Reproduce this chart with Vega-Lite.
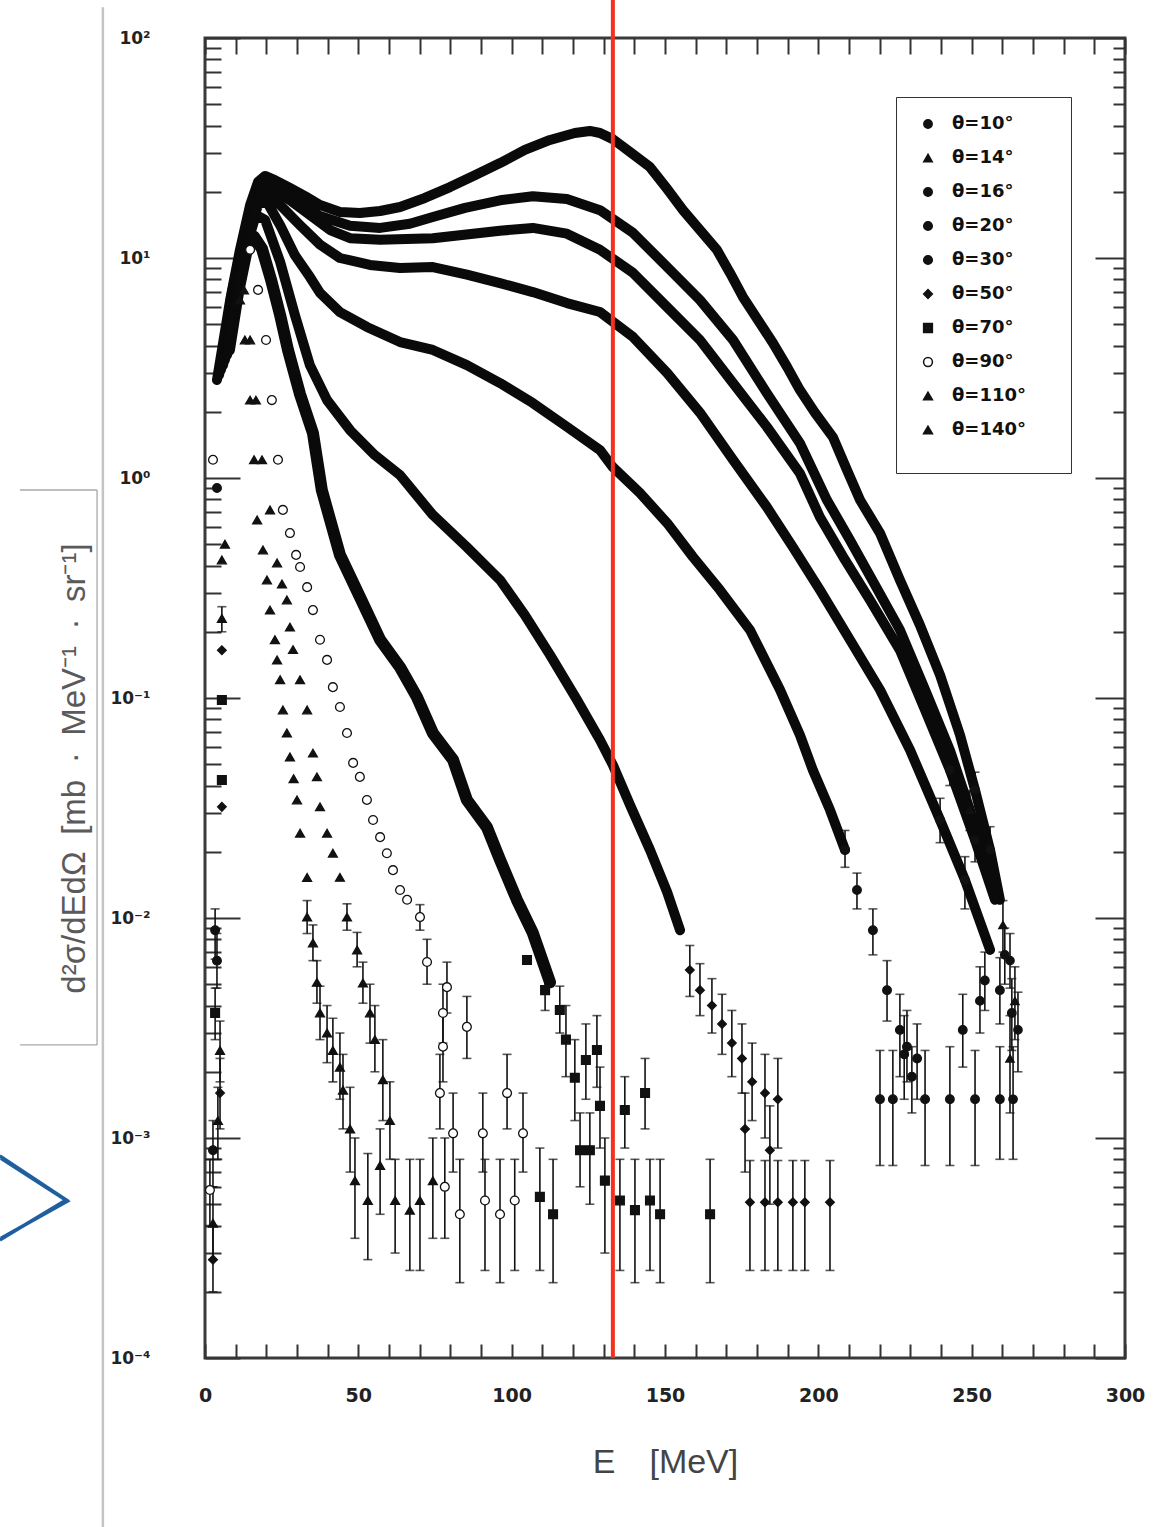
{
  "$schema": "https://vega.github.io/schema/vega-lite/v6.json",
  "width": 920,
  "height": 1320,
  "autosize": {"type": "none"},
  "padding": {"left": 205, "top": 38, "right": 46, "bottom": 169},
  "background": "white",
  "config": {
    "view": {"stroke": "#3a3a3a", "strokeWidth": 3},
    "font": "DejaVu Sans",
    "axis": {"grid": false}
  },
  "title": {"text": "44", "orient": "bottom", "anchor": "end", "frame": "group", "offset": 156, "dx": 60, "fontSize": 32, "fontWeight": "normal", "color": "#111", "baseline": "top", "font": "Liberation Sans"},
  "data": {"values": [{}]},
  "datasets": {
    "curves": [
      {"theta":10,"E":3.9,"y":2.79},{"theta":10,"E":8.2,"y":6.44},{"theta":10,"E":11.4,"y":10.9},{"theta":10,"E":14.7,"y":17.4},{"theta":10,"E":17.3,"y":22.2},{"theta":10,"E":19.6,"y":23.6},{"theta":10,"E":22.8,"y":22.6},{"theta":10,"E":27.7,"y":20.8},{"theta":10,"E":32.6,"y":19.1},{"theta":10,"E":37.5,"y":17.4},{"theta":10,"E":44.0,"y":16.2},{"theta":10,"E":50.5,"y":16.0},{"theta":10,"E":57.1,"y":16.35},{"theta":10,"E":63.6,"y":17.05},{"theta":10,"E":71.7,"y":18.75},{"theta":10,"E":79.9,"y":21.0},{"theta":10,"E":88.0,"y":23.8},{"theta":10,"E":96.2,"y":27.0},{"theta":10,"E":104.3,"y":31.0},{"theta":10,"E":112.5,"y":34.4},{"theta":10,"E":120.6,"y":37.0},{"theta":10,"E":125.5,"y":37.8},{"theta":10,"E":128.8,"y":37.0},{"theta":10,"E":133.0,"y":34.7},{"theta":10,"E":138.6,"y":30.3},{"theta":10,"E":145.1,"y":25.9},{"theta":10,"E":150.7,"y":20.6},{"theta":10,"E":155.9,"y":16.5},{"theta":10,"E":161.4,"y":13.4},{"theta":10,"E":166.9,"y":10.9},{"theta":10,"E":171.2,"y":8.55},{"theta":10,"E":175.4,"y":6.65},{"theta":10,"E":180.3,"y":5.23},{"theta":10,"E":185.2,"y":4.11},{"theta":10,"E":189.8,"y":3.2},{"theta":10,"E":194.0,"y":2.51},{"theta":10,"E":198.9,"y":1.98},{"theta":10,"E":204.8,"y":1.53},{"theta":10,"E":209.3,"y":1.09},{"theta":10,"E":213.6,"y":0.794},{"theta":10,"E":220.1,"y":0.562},{"theta":10,"E":226.6,"y":0.344},{"theta":10,"E":233.1,"y":0.215},{"theta":10,"E":239.7,"y":0.127},{"theta":10,"E":246.2,"y":0.0679},{"theta":10,"E":251.1,"y":0.0382},{"theta":10,"E":256.0,"y":0.0204},{"theta":10,"E":259.2,"y":0.0121},

      {"theta":14,"E":4.6,"y":2.94},{"theta":14,"E":8.8,"y":7.0},{"theta":14,"E":12.1,"y":11.5},{"theta":14,"E":15.3,"y":17.4},{"theta":14,"E":18.6,"y":21.2},{"theta":14,"E":21.2,"y":21.7},{"theta":14,"E":26.1,"y":19.95},{"theta":14,"E":31.0,"y":17.8},{"theta":14,"E":37.5,"y":15.5},{"theta":14,"E":47.3,"y":14.0},{"theta":14,"E":57.1,"y":13.7},{"theta":14,"E":66.8,"y":14.3},{"theta":14,"E":74.3,"y":15.35},{"theta":14,"E":84.8,"y":16.9},{"theta":14,"E":96.2,"y":18.3},{"theta":14,"E":106.9,"y":19.1},{"theta":14,"E":118.0,"y":18.55},{"theta":14,"E":128.8,"y":16.5},{"theta":14,"E":139.6,"y":13.0},{"theta":14,"E":150.7,"y":9.1},{"theta":14,"E":161.4,"y":6.44},{"theta":14,"E":172.2,"y":4.24},{"theta":14,"E":183.2,"y":2.43},{"theta":14,"E":194.0,"y":1.44},{"theta":14,"E":202.8,"y":0.794},{"theta":14,"E":210.3,"y":0.523},{"theta":14,"E":218.5,"y":0.326},{"theta":14,"E":226.6,"y":0.204},{"theta":14,"E":234.8,"y":0.109},{"theta":14,"E":242.9,"y":0.058},{"theta":14,"E":249.4,"y":0.031},{"theta":14,"E":256.0,"y":0.0165},

      {"theta":16,"E":5.2,"y":3.1},{"theta":16,"E":9.5,"y":7.16},{"theta":16,"E":12.7,"y":11.5},{"theta":16,"E":16.0,"y":16.5},{"theta":16,"E":18.6,"y":19.95},{"theta":16,"E":21.8,"y":20.4},{"theta":16,"E":27.7,"y":18.3},{"theta":16,"E":34.2,"y":15.7},{"theta":16,"E":40.8,"y":13.4},{"theta":16,"E":47.3,"y":12.3},{"theta":16,"E":57.1,"y":12.1},{"theta":16,"E":74.3,"y":12.3},{"theta":16,"E":96.2,"y":13.3},{"theta":16,"E":106.9,"y":13.7},{"theta":16,"E":118.0,"y":12.9},{"theta":16,"E":128.8,"y":10.9},{"theta":16,"E":139.6,"y":8.55},{"theta":16,"E":150.7,"y":5.98},{"theta":16,"E":161.4,"y":4.24},{"theta":16,"E":172.2,"y":2.7},{"theta":16,"E":183.2,"y":1.71},{"theta":16,"E":194.0,"y":1.05},{"theta":16,"E":200.5,"y":0.665},{"theta":16,"E":208.7,"y":0.424},{"theta":16,"E":216.8,"y":0.279},{"theta":16,"E":226.6,"y":0.165},{"theta":16,"E":234.8,"y":0.0882},{"theta":16,"E":242.9,"y":0.0471},{"theta":16,"E":251.1,"y":0.0226},{"theta":16,"E":257.6,"y":0.0121},

      {"theta":20,"E":5.9,"y":3.26},{"theta":20,"E":10.1,"y":7.54},{"theta":20,"E":13.4,"y":12.1},{"theta":20,"E":16.6,"y":17.4},{"theta":20,"E":19.6,"y":19.3},{"theta":20,"E":24.5,"y":17.4},{"theta":20,"E":31.0,"y":14.1},{"theta":20,"E":37.5,"y":11.5},{"theta":20,"E":44.0,"y":10.0},{"theta":20,"E":53.8,"y":9.3},{"theta":20,"E":63.6,"y":9.0},{"theta":20,"E":74.3,"y":9.1},{"theta":20,"E":85.4,"y":8.4},{"theta":20,"E":96.2,"y":7.69},{"theta":20,"E":106.9,"y":7.0},{"theta":20,"E":118.0,"y":6.24},{"theta":20,"E":128.8,"y":5.68},{"theta":20,"E":139.6,"y":4.37},{"theta":20,"E":150.7,"y":3.0},{"theta":20,"E":161.4,"y":1.98},{"theta":20,"E":172.2,"y":1.21},{"theta":20,"E":183.2,"y":0.738},{"theta":20,"E":191.7,"y":0.485},{"theta":20,"E":200.5,"y":0.31},{"theta":20,"E":210.3,"y":0.184},{"theta":20,"E":220.1,"y":0.109},{"theta":20,"E":229.9,"y":0.058},{"theta":20,"E":239.7,"y":0.0279},{"theta":20,"E":247.8,"y":0.0149},{"theta":20,"E":256.0,"y":0.00716},

      {"theta":30,"E":6.5,"y":3.44},{"theta":30,"E":10.8,"y":8.37},{"theta":30,"E":14.0,"y":12.7},{"theta":30,"E":17.3,"y":17.4},{"theta":30,"E":19.9,"y":18.3},{"theta":30,"E":24.5,"y":14.1},{"theta":30,"E":29.3,"y":10.3},{"theta":30,"E":34.2,"y":8.2},{"theta":30,"E":37.5,"y":6.94},{"theta":30,"E":44.0,"y":5.68},{"theta":30,"E":52.8,"y":4.86},{"theta":30,"E":63.6,"y":4.15},{"theta":30,"E":74.3,"y":3.82},{"theta":30,"E":85.4,"y":3.26},{"theta":30,"E":96.2,"y":2.7},{"theta":30,"E":106.9,"y":2.19},{"theta":30,"E":118.0,"y":1.71},{"theta":30,"E":128.8,"y":1.34},{"theta":30,"E":133.0,"y":1.12},{"theta":30,"E":141.8,"y":0.855},{"theta":30,"E":150.7,"y":0.624},{"theta":30,"E":159.1,"y":0.438},{"theta":30,"E":167.9,"y":0.31},{"theta":30,"E":177.7,"y":0.204},{"theta":30,"E":187.5,"y":0.109},{"theta":30,"E":194.0,"y":0.0679},{"theta":30,"E":198.2,"y":0.0471},{"theta":30,"E":203.8,"y":0.031},{"theta":30,"E":208.7,"y":0.0204},

      {"theta":50,"E":7.2,"y":3.62},{"theta":50,"E":10.4,"y":7.16},{"theta":50,"E":13.7,"y":11.5},{"theta":50,"E":16.6,"y":15.7},{"theta":50,"E":19.6,"y":14.9},{"theta":50,"E":24.5,"y":9.6},{"theta":50,"E":29.3,"y":5.51},{"theta":50,"E":34.2,"y":3.26},{"theta":50,"E":39.8,"y":2.26},{"theta":50,"E":47.3,"y":1.65},{"theta":50,"E":55.4,"y":1.27},{"theta":50,"E":63.6,"y":1.03},{"theta":50,"E":74.3,"y":0.679},{"theta":50,"E":85.4,"y":0.485},{"theta":50,"E":96.2,"y":0.344},{"theta":50,"E":104.3,"y":0.238},{"theta":50,"E":112.5,"y":0.157},{"theta":50,"E":121.3,"y":0.098},{"theta":50,"E":128.8,"y":0.0644},{"theta":50,"E":133.0,"y":0.0496},{"theta":50,"E":138.6,"y":0.0326},{"theta":50,"E":145.1,"y":0.0204},{"theta":50,"E":150.7,"y":0.0131},{"theta":50,"E":154.9,"y":0.0088},

      {"theta":70,"E":7.8,"y":3.82},{"theta":70,"E":10.8,"y":7.0},{"theta":70,"E":13.4,"y":10.5},{"theta":70,"E":16.0,"y":12.5},{"theta":70,"E":18.6,"y":11.0},{"theta":70,"E":21.5,"y":8.0},{"theta":70,"E":24.5,"y":5.5},{"theta":70,"E":27.1,"y":3.8},{"theta":70,"E":31.0,"y":2.4},{"theta":70,"E":35.2,"y":1.6},{"theta":70,"E":38.1,"y":0.88},{"theta":70,"E":44.0,"y":0.447},{"theta":70,"E":50.5,"y":0.288},{"theta":70,"E":57.1,"y":0.184},{"theta":70,"E":63.6,"y":0.138},{"theta":70,"E":69.1,"y":0.101},{"theta":70,"E":74.3,"y":0.0693},{"theta":70,"E":80.9,"y":0.0523},{"theta":70,"E":85.4,"y":0.0344},{"theta":70,"E":91.9,"y":0.0259},{"theta":70,"E":96.2,"y":0.0184},{"theta":70,"E":101.7,"y":0.0121},{"theta":70,"E":106.9,"y":0.00855},{"theta":70,"E":112.5,"y":0.0051}
    ],
    "marks": [
      {"theta":10,"E":251.1,"y":0.0382,"lo":0.032,"hi":0.046},{"theta":10,"E":256.0,"y":0.0204,"lo":0.016,"hi":0.026},{"theta":10,"E":262.5,"y":0.0064,"lo":0.0048,"hi":0.0085},{"theta":10,"E":265.1,"y":0.0031,"lo":0.002,"hi":0.0046},{"theta":10,"E":263.5,"y":0.0015,"lo":0.0008,"hi":0.0026},

      {"theta":14,"E":249.4,"y":0.031,"lo":0.025,"hi":0.038},{"theta":14,"E":260.2,"y":0.0093,"lo":0.007,"hi":0.012},{"theta":14,"E":264.1,"y":0.0042,"lo":0.0028,"hi":0.006},{"theta":14,"E":262.5,"y":0.0023,"lo":0.0013,"hi":0.0036},

      {"theta":16,"E":242.9,"y":0.0471,"lo":0.04,"hi":0.056},{"theta":16,"E":251.1,"y":0.0226,"lo":0.018,"hi":0.028},{"theta":16,"E":254.3,"y":0.0052,"lo":0.0038,"hi":0.007},{"theta":16,"E":260.8,"y":0.0068,"lo":0.005,"hi":0.009},{"theta":16,"E":263.1,"y":0.0037,"lo":0.0025,"hi":0.0053},{"theta":16,"E":259.2,"y":0.0015,"lo":0.0008,"hi":0.0026},

      {"theta":20,"E":239.7,"y":0.0279,"lo":0.022,"hi":0.035},{"theta":20,"E":247.8,"y":0.0149,"lo":0.011,"hi":0.019},{"theta":20,"E":252.7,"y":0.0042,"lo":0.003,"hi":0.006},{"theta":20,"E":259.2,"y":0.0047,"lo":0.0033,"hi":0.0066},{"theta":20,"E":247.1,"y":0.0031,"lo":0.0021,"hi":0.0045},{"theta":20,"E":251.1,"y":0.0015,"lo":0.00075,"hi":0.0025},{"theta":20,"E":242.9,"y":0.0015,"lo":0.00075,"hi":0.0026},

      {"theta":30,"E":3.9,"y":0.9},{"theta":30,"E":3.3,"y":0.0088,"lo":0.0065,"hi":0.011},{"theta":30,"E":3.9,"y":0.0064,"lo":0.0048,"hi":0.0085},{"theta":30,"E":2.6,"y":0.00088,"lo":0.0006,"hi":0.0012},
      {"theta":30,"E":208.7,"y":0.0204,"lo":0.017,"hi":0.025},{"theta":30,"E":212.6,"y":0.0134,"lo":0.011,"hi":0.016},{"theta":30,"E":217.8,"y":0.0088,"lo":0.0068,"hi":0.011},{"theta":30,"E":222.4,"y":0.0047,"lo":0.0034,"hi":0.0064},{"theta":30,"E":226.6,"y":0.0031,"lo":0.0019,"hi":0.0045},{"theta":30,"E":228.0,"y":0.0024,"lo":0.0015,"hi":0.0036},{"theta":30,"E":228.9,"y":0.0026,"lo":0.0018,"hi":0.0038},{"theta":30,"E":230.5,"y":0.0019,"lo":0.0013,"hi":0.0026},{"theta":30,"E":232.2,"y":0.0023,"lo":0.0015,"hi":0.0033},{"theta":30,"E":220.1,"y":0.0015,"lo":0.00075,"hi":0.0025},{"theta":30,"E":224.3,"y":0.0015,"lo":0.00075,"hi":0.0025},{"theta":30,"E":234.8,"y":0.0015,"lo":0.00075,"hi":0.0025},

      {"theta":50,"E":5.5,"y":0.165},{"theta":50,"E":5.5,"y":0.032},{"theta":50,"E":4.9,"y":0.0016,"lo":0.0011,"hi":0.0023},{"theta":50,"E":2.6,"y":0.00028,"lo":0.0002,"hi":0.0004},
      {"theta":50,"E":158.1,"y":0.0058,"lo":0.0044,"hi":0.0075},{"theta":50,"E":161.4,"y":0.0047,"lo":0.0036,"hi":0.0062},{"theta":50,"E":165.3,"y":0.004,"lo":0.003,"hi":0.0053},{"theta":50,"E":168.6,"y":0.0033,"lo":0.0024,"hi":0.0045},{"theta":50,"E":171.8,"y":0.0027,"lo":0.0019,"hi":0.0038},{"theta":50,"E":175.1,"y":0.0023,"lo":0.0016,"hi":0.0033},{"theta":50,"E":178.4,"y":0.0018,"lo":0.0012,"hi":0.0027},{"theta":50,"E":182.6,"y":0.0016,"lo":0.001,"hi":0.0024},{"theta":50,"E":186.8,"y":0.0015,"lo":0.0009,"hi":0.0023},{"theta":50,"E":176.1,"y":0.0011,"lo":0.0007,"hi":0.0016},{"theta":50,"E":184.2,"y":0.00088,"lo":0.0005,"hi":0.0014},
      {"theta":50,"E":177.7,"y":0.00051,"lo":0.00025,"hi":0.00079},{"theta":50,"E":182.6,"y":0.00051,"lo":0.00025,"hi":0.00079},{"theta":50,"E":186.8,"y":0.00051,"lo":0.00025,"hi":0.00079},{"theta":50,"E":191.7,"y":0.00051,"lo":0.00025,"hi":0.00079},{"theta":50,"E":195.6,"y":0.00051,"lo":0.00025,"hi":0.00079},{"theta":50,"E":203.8,"y":0.00051,"lo":0.00025,"hi":0.00079},

      {"theta":70,"E":5.5,"y":0.098},{"theta":70,"E":5.5,"y":0.0424},{"theta":70,"E":3.3,"y":0.0037,"lo":0.0028,"hi":0.0048},
      {"theta":70,"E":105.0,"y":0.00644},{"theta":70,"E":110.9,"y":0.0047,"lo":0.0038,"hi":0.0058},{"theta":70,"E":115.7,"y":0.00382,"lo":0.003,"hi":0.0049},{"theta":70,"E":117.7,"y":0.0028,"lo":0.0019,"hi":0.004},{"theta":70,"E":120.6,"y":0.00188,"lo":0.0012,"hi":0.0028},{"theta":70,"E":124.2,"y":0.00226,"lo":0.0015,"hi":0.0033},{"theta":70,"E":127.8,"y":0.00251,"lo":0.0017,"hi":0.0036},{"theta":70,"E":128.8,"y":0.0014,"lo":0.0009,"hi":0.0021},{"theta":70,"E":122.3,"y":0.00088,"lo":0.0006,"hi":0.0013},{"theta":70,"E":136.9,"y":0.00134,"lo":0.0009,"hi":0.0019},{"theta":70,"E":143.5,"y":0.0016,"lo":0.0011,"hi":0.0023},
      {"theta":70,"E":109.2,"y":0.00054,"lo":0.00025,"hi":0.0009},{"theta":70,"E":113.5,"y":0.00045,"lo":0.00022,"hi":0.0008},{"theta":70,"E":125.5,"y":0.00088,"lo":0.0005,"hi":0.0013},{"theta":70,"E":130.4,"y":0.00064,"lo":0.0003,"hi":0.001},{"theta":70,"E":135.3,"y":0.00052,"lo":0.00025,"hi":0.0008},{"theta":70,"E":140.2,"y":0.00047,"lo":0.00022,"hi":0.0008},{"theta":70,"E":145.1,"y":0.00052,"lo":0.00025,"hi":0.0008},{"theta":70,"E":148.4,"y":0.00045,"lo":0.00022,"hi":0.0008},{"theta":70,"E":164.7,"y":0.00045,"lo":0.00022,"hi":0.0008},

      {"theta":90,"E":2.6,"y":1.21},{"theta":90,"E":1.6,"y":0.00058,"lo":0.0004,"hi":0.0008},
      {"theta":90,"E":14.7,"y":10.9},{"theta":90,"E":17.3,"y":7.16},{"theta":90,"E":19.9,"y":4.24},{"theta":90,"E":21.8,"y":2.26},{"theta":90,"E":23.8,"y":1.21},{"theta":90,"E":25.4,"y":0.716},{"theta":90,"E":27.7,"y":0.562},{"theta":90,"E":29.7,"y":0.447},{"theta":90,"E":31.0,"y":0.394},{"theta":90,"E":33.3,"y":0.319},{"theta":90,"E":35.2,"y":0.251},{"theta":90,"E":37.5,"y":0.184},{"theta":90,"E":39.8,"y":0.149},{"theta":90,"E":41.7,"y":0.112},{"theta":90,"E":44.0,"y":0.091},{"theta":90,"E":46.3,"y":0.0693},{"theta":90,"E":48.3,"y":0.0507},{"theta":90,"E":50.5,"y":0.0438},{"theta":90,"E":52.8,"y":0.0344},{"theta":90,"E":54.8,"y":0.0279},{"theta":90,"E":57.1,"y":0.0233},{"theta":90,"E":59.3,"y":0.0197},{"theta":90,"E":61.3,"y":0.0165},{"theta":90,"E":63.6,"y":0.0134},{"theta":90,"E":65.9,"y":0.0121},
      {"theta":90,"E":70.1,"y":0.0101,"lo":0.0088,"hi":0.0115},{"theta":90,"E":72.4,"y":0.00631,"lo":0.005,"hi":0.008},{"theta":90,"E":78.9,"y":0.00485,"lo":0.0037,"hi":0.0063},{"theta":90,"E":77.6,"y":0.0037,"lo":0.0027,"hi":0.005},{"theta":90,"E":85.4,"y":0.0032,"lo":0.0023,"hi":0.0044},{"theta":90,"E":77.6,"y":0.0026,"lo":0.0018,"hi":0.0037},{"theta":90,"E":76.6,"y":0.0016,"lo":0.0011,"hi":0.0024},{"theta":90,"E":80.9,"y":0.00105,"lo":0.0007,"hi":0.0016},{"theta":90,"E":90.6,"y":0.00105,"lo":0.0007,"hi":0.0016},{"theta":90,"E":98.5,"y":0.0016,"lo":0.0011,"hi":0.0024},{"theta":90,"E":103.7,"y":0.00105,"lo":0.0007,"hi":0.0016},
      {"theta":90,"E":78.2,"y":0.0006,"lo":0.00035,"hi":0.001},{"theta":90,"E":83.1,"y":0.00045,"lo":0.00022,"hi":0.0008},{"theta":90,"E":91.3,"y":0.00052,"lo":0.00025,"hi":0.0008},{"theta":90,"E":96.2,"y":0.00045,"lo":0.00022,"hi":0.0008},{"theta":90,"E":101.0,"y":0.00052,"lo":0.00025,"hi":0.0008},

      {"theta":110,"E":5.5,"y":0.23,"lo":0.2,"hi":0.26},{"theta":110,"E":4.9,"y":0.0025,"lo":0.0018,"hi":0.0034},{"theta":110,"E":2.6,"y":0.00041,"lo":0.00028,"hi":0.0006},
      {"theta":110,"E":12.7,"y":7.16},{"theta":110,"E":14.7,"y":4.24},{"theta":110,"E":16.6,"y":2.26},{"theta":110,"E":18.6,"y":1.21},{"theta":110,"E":21.2,"y":0.716},{"theta":110,"E":23.5,"y":0.411},{"theta":110,"E":25.1,"y":0.33},{"theta":110,"E":26.7,"y":0.279},{"theta":110,"E":27.7,"y":0.21},{"theta":110,"E":28.7,"y":0.166},{"theta":110,"E":31.0,"y":0.121},{"theta":110,"E":33.3,"y":0.0882},{"theta":110,"E":35.2,"y":0.0562},{"theta":110,"E":36.5,"y":0.0438},{"theta":110,"E":37.5,"y":0.032},{"theta":110,"E":39.8,"y":0.0243},{"theta":110,"E":41.7,"y":0.0197},{"theta":110,"E":44.0,"y":0.0153},
      {"theta":110,"E":46.3,"y":0.0101,"lo":0.0088,"hi":0.0116},{"theta":110,"E":49.6,"y":0.00716,"lo":0.006,"hi":0.0086},{"theta":110,"E":51.5,"y":0.00507,"lo":0.0041,"hi":0.0063},{"theta":110,"E":53.8,"y":0.0037,"lo":0.0027,"hi":0.005},{"theta":110,"E":55.4,"y":0.0028,"lo":0.002,"hi":0.004},{"theta":110,"E":58.0,"y":0.00184,"lo":0.0012,"hi":0.0028},{"theta":110,"E":60.3,"y":0.0012,"lo":0.0008,"hi":0.0018},
      {"theta":110,"E":62.0,"y":0.00052,"lo":0.0003,"hi":0.0008},{"theta":110,"E":66.8,"y":0.00047,"lo":0.00025,"hi":0.0008},{"theta":110,"E":70.1,"y":0.00052,"lo":0.00025,"hi":0.0008},{"theta":110,"E":74.3,"y":0.00064,"lo":0.00035,"hi":0.001},

      {"theta":140,"E":6.5,"y":0.5},{"theta":140,"E":5.5,"y":0.424},{"theta":140,"E":4.2,"y":0.0012,"lo":0.0008,"hi":0.0017},
      {"theta":140,"E":11.4,"y":6.44},{"theta":140,"E":13.0,"y":4.24},{"theta":140,"E":14.7,"y":2.26},{"theta":140,"E":16.0,"y":1.21},{"theta":140,"E":17.0,"y":0.644},{"theta":140,"E":18.9,"y":0.471},{"theta":140,"E":20.2,"y":0.344},{"theta":140,"E":21.2,"y":0.251},{"theta":140,"E":22.8,"y":0.184},{"theta":140,"E":23.5,"y":0.149},{"theta":140,"E":24.5,"y":0.121},{"theta":140,"E":25.4,"y":0.0882},{"theta":140,"E":26.7,"y":0.0693},{"theta":140,"E":27.7,"y":0.054},{"theta":140,"E":28.9,"y":0.043},{"theta":140,"E":30.0,"y":0.0344},{"theta":140,"E":31.0,"y":0.0243},{"theta":140,"E":33.3,"y":0.0153},
      {"theta":140,"E":33.3,"y":0.0101,"lo":0.0085,"hi":0.012},{"theta":140,"E":35.2,"y":0.0077,"lo":0.0064,"hi":0.0093},{"theta":140,"E":36.5,"y":0.0051,"lo":0.0041,"hi":0.0064},{"theta":140,"E":37.5,"y":0.0037,"lo":0.0028,"hi":0.0049},{"theta":140,"E":39.8,"y":0.003,"lo":0.0022,"hi":0.004},{"theta":140,"E":41.7,"y":0.0025,"lo":0.0018,"hi":0.0035},{"theta":140,"E":44.0,"y":0.0021,"lo":0.0015,"hi":0.003},{"theta":140,"E":45.0,"y":0.00165,"lo":0.0011,"hi":0.0024},{"theta":140,"E":47.3,"y":0.0011,"lo":0.0007,"hi":0.0017},
      {"theta":140,"E":48.9,"y":0.00064,"lo":0.00035,"hi":0.001},{"theta":140,"E":53.1,"y":0.00052,"lo":0.00028,"hi":0.00085},{"theta":140,"E":57.1,"y":0.00075,"lo":0.00045,"hi":0.0011}
    ]
  },
  "layer": [
    {
      "data": {"name": "marks"},
      "transform": [{"filter": "isValid(datum.lo)"}],
      "mark": {"type": "rule", "color": "#111", "strokeWidth": 1.6},
      "encoding": {
        "x": {"field": "E", "type": "quantitative", "scale": {"domain": [0, 300], "nice": false, "zero": false},
          "axis": {"orient": "bottom", "values": [0, 50, 100, 150, 200, 250, 300], "ticks": false, "domain": false, "labelFlush": false, "labelOverlap": false, "labelPadding": 28, "labelFontSize": 19, "labelFontWeight": "bold", "labelColor": "#222", "title": "E\u2003[MeV]", "titleFontSize": 34, "titleFontWeight": "normal", "titleColor": "#444", "titleFont": "Liberation Sans", "titlePadding": 40}},
        "y": {"field": "lo", "type": "quantitative", "scale": {"type": "log", "domain": [0.0001, 100], "nice": false},
          "axis": {"orient": "left", "values": [0.0001, 0.001, 0.01, 0.1, 1, 10, 100], "ticks": false, "domain": false, "labelFlush": false, "labelOverlap": false, "labelPadding": 55, "labelFontSize": 17, "labelFontWeight": "bold", "labelColor": "#222",
            "labelExpr": "datum.value >= 50 ? '10²' : datum.value >= 5 ? '10¹' : datum.value >= 0.5 ? '10⁰' : datum.value >= 0.05 ? '10⁻¹' : datum.value >= 0.005 ? '10⁻²' : datum.value >= 0.0005 ? '10⁻³' : '10⁻⁴'",
            "title": "d²σ/dEdΩ\u2002[mb\u2002·\u2002MeV⁻¹\u2002·\u2002sr⁻¹]", "titleFont": "Liberation Sans", "titleFontSize": 33, "titleFontWeight": "normal", "titleColor": "#5a5a5a", "titleAngle": -90, "titleX": -131, "titleY": 730, "titleAlign": "center", "titleBaseline": "middle"}},
        "y2": {"field": "hi"}
      }
    },
    {
      "data": {"name": "marks"},
      "transform": [{"filter": "isValid(datum.lo)"}],
      "mark": {"type": "tick", "orient": "horizontal", "color": "#111", "thickness": 1.6, "size": 9},
      "encoding": {
        "x": {"field": "E", "type": "quantitative",
          "axis": {"orient": "bottom", "values": [0,10,20,30,40,50,60,70,80,90,100,110,120,130,140,150,160,170,180,190,200,210,220,230,240,250,260,270,280,290,300], "labels": false, "domain": false, "tickSize": -14, "tickWidth": 2, "tickColor": "#333", "title": null}},
        "y": {"field": "lo", "type": "quantitative",
          "axis": {"orient": "left", "values": [0.0002,0.0003,0.0004,0.0005,0.0006,0.0007,0.0008,0.0009,0.002,0.003,0.004,0.005,0.006,0.007,0.008,0.009,0.02,0.03,0.04,0.05,0.06,0.07,0.08,0.09,0.2,0.3,0.4,0.5,0.6,0.7,0.8,0.9,2,3,4,5,6,7,8,9,20,30,40,50,60,70,80,90], "labels": false, "domain": false, "tickSize": -16, "tickWidth": 2, "tickColor": "#333", "title": null}}
      }
    },
    {
      "data": {"name": "marks"},
      "transform": [{"filter": "isValid(datum.lo)"}],
      "mark": {"type": "tick", "orient": "horizontal", "color": "#111", "thickness": 1.6, "size": 9},
      "encoding": {
        "x": {"field": "E", "type": "quantitative",
          "axis": {"orient": "top", "values": [0,10,20,30,40,50,60,70,80,90,100,110,120,130,140,150,160,170,180,190,200,210,220,230,240,250,260,270,280,290,300], "labels": false, "domain": false, "tickSize": -16, "tickWidth": 2, "tickColor": "#333", "title": null}},
        "y": {"field": "hi", "type": "quantitative",
          "axis": {"orient": "right", "values": [0.0002,0.0003,0.0004,0.0005,0.0006,0.0007,0.0008,0.0009,0.002,0.003,0.004,0.005,0.006,0.007,0.008,0.009,0.02,0.03,0.04,0.05,0.06,0.07,0.08,0.09,0.2,0.3,0.4,0.5,0.6,0.7,0.8,0.9,2,3,4,5,6,7,8,9,20,30,40,50,60,70,80,90], "labels": false, "domain": false, "tickSize": -12, "tickWidth": 2, "tickColor": "#333", "title": null}}
      }
    },
    {
      "data": {"name": "curves"},
      "transform": [{"filter": "datum.theta != 70"}],
      "mark": {"type": "line", "color": "#0a0a0a", "strokeWidth": 10, "strokeCap": "round", "strokeJoin": "round"},
      "encoding": {
        "x": {"field": "E", "type": "quantitative", "axis": null},
        "y": {"field": "y", "type": "quantitative",
          "axis": {"orient": "left", "values": [0.0001, 0.001, 0.01, 0.1, 1, 10, 100], "labels": false, "domain": false, "tickSize": -35, "tickWidth": 2, "tickColor": "#333", "title": null}},
        "detail": {"field": "theta", "type": "nominal"}
      }
    },
    {
      "data": {"name": "curves"},
      "transform": [{"filter": "datum.theta == 70"}],
      "mark": {"type": "line", "color": "#0a0a0a", "strokeWidth": 12, "strokeCap": "round", "strokeJoin": "round"},
      "encoding": {
        "x": {"field": "E", "type": "quantitative", "axis": null},
        "y": {"field": "y", "type": "quantitative",
          "axis": {"orient": "right", "values": [0.0001, 0.001, 0.01, 0.1, 1, 10, 100], "labels": false, "domain": false, "tickSize": -30, "tickWidth": 2, "tickColor": "#333", "title": null}}
      }
    },
    {
      "data": {"name": "marks"},
      "mark": {"type": "point", "filled": true, "stroke": "#111", "strokeWidth": 1.3, "opacity": 1},
      "encoding": {
        "x": {"field": "E", "type": "quantitative", "axis": null},
        "y": {"field": "y", "type": "quantitative", "axis": null},
        "shape": {"field": "theta", "type": "nominal",
          "scale": {"domain": [10, 14, 16, 20, 30, 50, 70, 90, 110, 140], "range": ["circle", "triangle-up", "circle", "circle", "circle", "diamond", "square", "circle", "triangle-up", "triangle-up"]},
          "legend": {"orient": "none", "legendX": 691, "legendY": 59, "title": " ", "titleOrient": "bottom", "titleFontSize": 12, "titlePadding": 5, "padding": 18, "strokeColor": "#333", "fillColor": "white", "labelFontSize": 18, "labelFontWeight": "bold", "labelColor": "#111", "labelExpr": "'θ=' + datum.label + '°\u2002\u2006\u2800'", "rowPadding": 16, "labelOffset": 15, "symbolOffset": 5,
            "encode": {"symbols": {"update": {"stroke": {"value": "#111"}, "strokeWidth": {"value": 1.3}}}}}},
        "fill": {"field": "theta", "type": "nominal",
          "scale": {"domain": [10, 14, 16, 20, 30, 50, 70, 90, 110, 140], "range": ["#111", "#111", "#111", "#111", "#111", "#111", "#111", "white", "#111", "#111"]},
          "legend": {"orient": "none", "legendX": 691, "legendY": 59, "title": " ", "titleOrient": "bottom", "titleFontSize": 12, "titlePadding": 5, "padding": 18, "strokeColor": "#333", "fillColor": "white", "labelFontSize": 18, "labelFontWeight": "bold", "labelColor": "#111", "labelExpr": "'θ=' + datum.label + '°\u2002\u2006\u2800'", "rowPadding": 16, "labelOffset": 15, "symbolOffset": 5,
            "encode": {"symbols": {"update": {"stroke": {"value": "#111"}, "strokeWidth": {"value": 1.3}}}}}},
        "size": {"field": "theta", "type": "nominal",
          "scale": {"domain": [10, 14, 16, 20, 30, 50, 70, 90, 110, 140], "range": [70, 80, 90, 45, 45, 50, 80, 65, 55, 80]},
          "legend": {"orient": "none", "legendX": 691, "legendY": 59, "title": " ", "titleOrient": "bottom", "titleFontSize": 12, "titlePadding": 5, "padding": 18, "strokeColor": "#333", "fillColor": "white", "labelFontSize": 18, "labelFontWeight": "bold", "labelColor": "#111", "labelExpr": "'θ=' + datum.label + '°\u2002\u2006\u2800'", "rowPadding": 16, "labelOffset": 15, "symbolOffset": 5,
            "encode": {"symbols": {"update": {"stroke": {"value": "#111"}, "strokeWidth": {"value": 1.3}}}}}}
      }
    },
    {
      "mark": {"type": "rule", "color": "#c4c4c4", "strokeWidth": 2.5},
      "encoding": {
        "x": {"datum": -33.3, "type": "quantitative", "axis": null},
        "y": {"datum": 138, "type": "quantitative", "axis": null},
        "y2": {"datum": 0.000017}
      }
    },
    {
      "mark": {"type": "rule", "color": "#a8a8a8", "strokeWidth": 1.3},
      "encoding": {
        "x": {"datum": -60.3, "type": "quantitative", "axis": null},
        "x2": {"datum": -35.2},
        "y": {"datum": 0.882, "type": "quantitative", "axis": null}
      }
    },
    {
      "mark": {"type": "rule", "color": "#a8a8a8", "strokeWidth": 1.3},
      "encoding": {
        "x": {"datum": -35.2, "type": "quantitative", "axis": null},
        "y": {"datum": 0.882, "type": "quantitative", "axis": null},
        "y2": {"datum": 0.00265}
      }
    },
    {
      "mark": {"type": "rule", "color": "#a8a8a8", "strokeWidth": 1.3},
      "encoding": {
        "x": {"datum": -60.3, "type": "quantitative", "axis": null},
        "x2": {"datum": -35.2},
        "y": {"datum": 0.00265, "type": "quantitative", "axis": null}
      }
    },
    {
      "mark": {"type": "point", "shape": "M-0.83,-1.1L0.83,0L-0.83,1.0M-0.8,-1.04L0.86,0.03L-0.8,0.96", "size": 6400, "filled": false, "color": "#1f5f9f", "strokeWidth": 3.5, "opacity": 1},
      "encoding": {
        "x": {"datum": -56.1, "type": "quantitative", "axis": null},
        "y": {"datum": 0.000523, "type": "quantitative", "axis": null}
      }
    },
    {
      "mark": {"type": "rule", "color": "#f2321e", "strokeWidth": 4},
      "encoding": {
        "x": {"datum": 133, "type": "quantitative", "axis": null},
        "y": {"datum": 150, "type": "quantitative", "axis": null},
        "y2": {"datum": 0.0001}
      }
    }
  ],
  "resolve": {"axis": {"x": "independent", "y": "independent"}}
}
